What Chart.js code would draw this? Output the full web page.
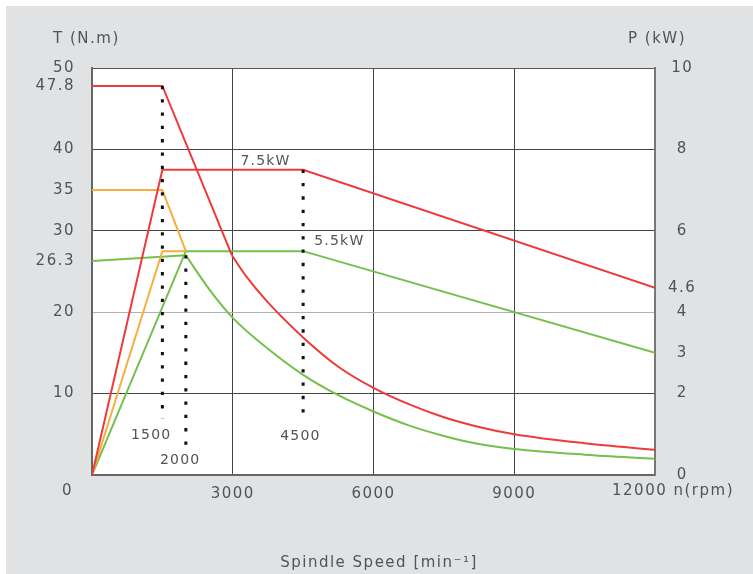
<!DOCTYPE html>
<html>
<head>
<meta charset="utf-8">
<script src="https://cdn.jsdelivr.net/npm/chart.js@4.4.1/dist/chart.umd.min.js"></script>
<style>
  html, body { margin: 0; padding: 0; background: #fff; }
  canvas { display: block; }
</style>
</head>
<body>
<canvas id="spindle" width="753" height="574"></canvas>
<script>
// spindle speed (rpm) vs torque (N.m) / power (kW)
var redTorqueSpeed = [0, 1500, 2980];
var redTorque = [47.8, 47.8, 27.0];
var redCurveSpeed = [2980, 3300, 3750, 4500, 5250, 6000, 6750, 7500, 8250, 9000, 10500, 12000];
var redCurveTorque = [27.0, 24.3, 21.2, 16.9, 13.3, 10.7, 8.7, 7.1, 5.9, 5.0, 3.9, 3.1];
var redPowerSpeed = [0, 1500, 4500, 12000];
var redPower = [0, 7.5, 7.5, 4.6];

var orangeTorqueSpeed = [0, 1500, 2000];
var orangeTorque = [35, 35, 27.5];
var orangePowerSpeed = [0, 1500, 2000];
var orangePower = [0, 5.5, 5.5];

var greenTorqueSpeed = [0, 2000];
var greenTorque = [26.3, 27.0];
var greenCurveSpeed = [2000, 2500, 3000, 3750, 4500, 5250, 6000, 6750, 7500, 8250, 9000, 10500, 12000];
var greenCurveTorque = [27.0, 22.8, 19.3, 15.5, 12.3, 9.8, 7.8, 6.1, 4.8, 3.8, 3.2, 2.5, 2.0];
var greenPowerSpeed = [0, 2000, 4500, 12000];
var greenPower = [0, 5.5, 5.5, 3.0];

// dotted marker lines (speed, torque top, torque bottom)
var markerSpeed = [1500, 2000, 4500];
var markerTop = [47.8, 27.0, 37.5];
var markerBottom = [6.9, 3.5, 6.9];

var torqueTicks = [0, 10, 20, 26.3, 30, 35, 40, 47.8, 50];
var powerTicks = [0, 2, 3, 4, 4.6, 6, 8, 10];
var speedTicks = [0, 3000, 6000, 9000, 12000];

// text notes inside the plot: text, speed, torque
var noteText = ["1500", "2000", "4500", "7.5kW", "5.5kW"];
var noteSpeed = [1262, 1879, 4443, 3698, 5272];
var noteTorque = [4.9, 1.75, 4.8, 38.5, 28.7];

var RED = "#ee3a3a", ORANGE = "#f8ae3c", GREEN = "#74c04c";
var TEXT = "#50535c";

function pts(xs, ys) {
  var out = [];
  for (var i = 0; i < xs.length; i++) out.push({x: xs[i], y: ys[i]});
  return out;
}

function line(xs, ys, color, axis, smooth) {
  return {
    data: pts(xs, ys),
    borderColor: color,
    borderWidth: 2,
    pointRadius: 0,
    fill: false,
    tension: 0,
    cubicInterpolationMode: smooth ? "monotone" : "default",
    yAxisID: axis
  };
}

var datasets = [];
for (var m = 0; m < markerSpeed.length; m++) {
  datasets.push({
    data: [{x: markerSpeed[m], y: markerTop[m]}, {x: markerSpeed[m], y: markerBottom[m]}],
    borderColor: "#111",
    borderWidth: 3,
    borderDash: [3.3, 10],
    borderCapStyle: "butt",
    pointRadius: 0,
    fill: false,
    yAxisID: "y"
  });
}
datasets.push(line(redTorqueSpeed, redTorque, RED, "y", false));
datasets.push(line(redCurveSpeed, redCurveTorque, RED, "y", true));
datasets.push(line(redPowerSpeed, redPower, RED, "y1", false));
datasets.push(line(orangeTorqueSpeed, orangeTorque, ORANGE, "y", false));
datasets.push(line(orangePowerSpeed, orangePower, ORANGE, "y1", false));
datasets.push(line(greenTorqueSpeed, greenTorque, GREEN, "y", false));
datasets.push(line(greenCurveSpeed, greenCurveTorque, GREEN, "y", true));
datasets.push(line(greenPowerSpeed, greenPower, GREEN, "y1", false));

Chart.defaults.font.family = "'DejaVu Sans', sans-serif";
Chart.defaults.font.size = 15;
Chart.defaults.color = TEXT;

var decor = {
  id: "decor",
  beforeUpdate: function(chart) { chart.ctx.letterSpacing = "1.5px"; },
  beforeDraw: function(chart) {
    var c = chart.ctx, a = chart.chartArea;
    c.save();
    c.fillStyle = "#fff";
    c.fillRect(0, 0, chart.width, chart.height);
    c.fillStyle = "#e1e2e4";
    c.fillRect(6, 6, chart.width, chart.height);
    c.fillStyle = "#fff";
    c.fillRect(a.left, a.top, a.right - a.left, a.bottom - a.top);
    c.restore();
    c.letterSpacing = "1.5px";
  },
  afterDraw: function(chart) {
    var c = chart.ctx, xs = chart.scales.x, ys = chart.scales.y;
    c.save();
    c.fillStyle = TEXT;
    c.letterSpacing = "1.5px";
    c.font = "15px 'DejaVu Sans'";
    c.textBaseline = "middle";
    c.textAlign = "left";
    c.fillText("T (N.m)", 53, 39);
    c.fillText("P (kW)", 628, 39);
    c.fillText("12000 n(rpm)", 612, 491);
    c.fillText("0", 62, 491);
    c.textAlign = "center";
    c.fillText("Spindle Speed [min\u207B\u00B9]", 379, 563);
    c.font = "14px 'DejaVu Sans'";
    c.letterSpacing = "1.2px";
    for (var i = 0; i < noteText.length; i++) {
      c.fillText(noteText[i], xs.getPixelForValue(noteSpeed[i]), ys.getPixelForValue(noteTorque[i]));
    }
    c.restore();
  }
};

function gridColor(ctx) {
  var v = ctx.tick.value;
  if (v === 20) return "#b0b0b0";
  if (v === 10 || v === 30 || v === 40) return "#444";
  if (v === 50) return "#555";
  return "rgba(0,0,0,0)";
}

new Chart(document.getElementById("spindle"), {
  type: "line",
  data: { datasets: datasets },
  plugins: [decor],
  options: {
    responsive: false,
    animation: false,
    devicePixelRatio: 1,
    layout: { padding: { top: 68, left: 0, right: 0, bottom: 0 } },
    plugins: { legend: { display: false }, tooltip: { enabled: false } },
    scales: {
      x: {
        type: "linear",
        min: 0,
        max: 12000,
        afterBuildTicks: function(axis) { axis.ticks = speedTicks.map(function(v) { return {value: v}; }); },
        afterFit: function(axis) { axis.height = 99; },
        ticks: {
          autoSkip: false,
          maxRotation: 0,
          padding: 10,
          callback: function(v) { return (v === 0 || v === 12000) ? "" : String(v); }
        },
        grid: {
          drawTicks: false,
          color: function(ctx) { var v = ctx.tick.value; return (v === 0 || v === 12000) ? "rgba(0,0,0,0)" : "#444"; }
        },
        border: { color: "#666", width: 2 }
      },
      y: {
        position: "left",
        min: 0,
        max: 50,
        afterBuildTicks: function(axis) { axis.ticks = torqueTicks.map(function(v) { return {value: v}; }); },
        afterFit: function(axis) { axis.width = 92; },
        ticks: {
          autoSkip: false,
          padding: 17,
          callback: function(v) { return v === 0 ? "" : String(v); }
        },
        grid: { drawTicks: false, color: gridColor },
        border: { color: "#666", width: 2 }
      },
      y1: {
        position: "right",
        min: 0,
        max: 10,
        afterBuildTicks: function(axis) { axis.ticks = powerTicks.map(function(v) { return {value: v}; }); },
        afterFit: function(axis) { axis.width = 98; },
        ticks: {
          autoSkip: false,
          padding: 13,
          crossAlign: "center",
          callback: function(v) { return String(v); }
        },
        grid: { drawTicks: false, drawOnChartArea: false },
        border: { color: "#777", width: 2 }
      }
    }
  }
});
</script>
</body>
</html>
